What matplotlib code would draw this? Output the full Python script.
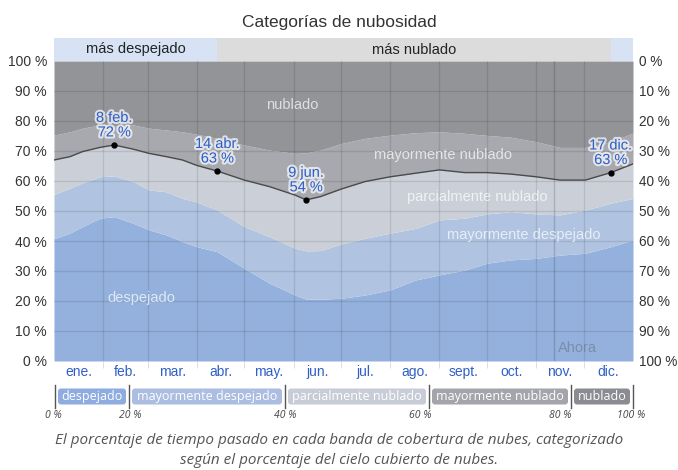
import matplotlib
matplotlib.use('Agg')
import matplotlib.pyplot as plt
import matplotlib.patheffects as pe
from matplotlib.patches import FancyBboxPatch

# Datos (día del año, porcentaje acumulado)
dias = [0, 10, 18, 29, 38, 50, 60, 71, 81, 90, 103, 120, 136, 152, 159, 168,
        181, 196, 212, 228, 243, 259, 273, 288, 304, 319, 335, 351, 365]
# límite superior de "despejado"
despejado = [40.8, 42.6, 44.8, 47.6, 48.1, 45.9, 43.7, 42.0, 39.8, 38.1, 36.4,
             30.9, 25.9, 22.0, 20.6, 20.6, 20.9, 22.0, 23.7, 27.0, 28.7, 30.3,
             32.6, 33.7, 34.2, 35.3, 35.9, 38.1, 40.3]
# + "mayormente despejado"
may_despejado = [55.5, 57.6, 59.4, 61.4, 61.7, 59.8, 57.0, 56.4, 54.2, 53.0, 50.3,
                 44.8, 41.4, 37.6, 36.7, 36.8, 39.0, 40.9, 42.6, 44.2, 47.0, 47.6,
                 49.0, 49.8, 49.0, 48.7, 50.3, 52.6, 54.2]
# + "parcialmente nublado" (línea oscura)
parc_nublado = [67.0, 68.1, 69.8, 71.2, 72.0, 70.6, 69.2, 68.1, 67.0, 65.2, 63.3,
                60.3, 58.1, 55.3, 53.7, 54.8, 57.3, 59.8, 61.4, 62.6, 63.7, 62.8,
                62.8, 62.3, 61.4, 60.3, 60.3, 62.8, 65.7]
# + "mayormente nublado"
may_nublado = [75.3, 76.4, 77.6, 78.7, 78.4, 78.7, 77.6, 77.0, 76.4, 75.6, 74.2,
               72.0, 70.3, 69.2, 69.4, 70.3, 72.5, 74.2, 75.3, 76.1, 76.4, 75.9,
               75.2, 74.6, 73.1, 71.2, 71.2, 73.1, 76.0]

meses = ['ene.', 'feb.', 'mar.', 'abr.', 'may.', 'jun.', 'jul.', 'ago.',
         'sept.', 'oct.', 'nov.', 'dic.']
inicio_mes = [0, 31, 59, 90, 120, 151, 181, 212, 243, 273, 304, 334, 365]

# puntos destacados: (día, valor, fecha)
destacados = [(38, 72.0, '8 feb.'), (103, 63.3, '14 abr.'),
              (159, 53.7, '9 jun.'), (351, 62.8, '17 dic.')]
# estaciones: (inicio, fin, nombre)
temporadas = [(0, 103, 'más despejado'), (103, 351, 'más nublado'), (351, 365, '')]
ahora = 315

categorias = ['despejado', 'mayormente despejado', 'parcialmente nublado',
              'mayormente nublado', 'nublado']
leyenda_pct = ['0 %', '20 %', '40 %', '60 %', '80 %', '100 %']

col_area = ['#93b1dc', '#b0c3e0', '#cbd0d8', '#a7a9ae', '#929498']
col_caja = ['#8eace0', '#abbde0', '#c8ccd6', '#a3a5aa', '#8a8c91']
azul = '#2f5fc8'

W, H = 678, 470
def fx(x):
    return x / W
def fy(y):
    return 1 - y / H

fig = plt.figure(figsize=(6.78, 4.70), dpi=100)
sans = ['Liberation Sans', 'DejaVu Sans']
open_sans = ['Open Sans', 'DejaVu Sans']

# gráfico principal
ax = fig.add_axes([fx(54), fy(361), fx(633) - fx(54), fy(61) - fy(361)])
ax.set_xlim(0, 365)
ax.set_ylim(0, 100)

capas = [[0] * len(dias), despejado, may_despejado, parc_nublado, may_nublado,
         [100] * len(dias)]
for i in range(5):
    ax.fill_between(dias, capas[i], capas[i + 1], color=col_area[i], lw=0, zorder=1)

for v in range(10, 100, 10):
    ax.axhline(v, color='k', alpha=0.1, lw=1, zorder=2)
for d in inicio_mes[1:-1]:
    ax.axvline(d, color='k', alpha=0.1, lw=1, zorder=2)
ax.axvline(ahora, color='k', alpha=0.16, lw=1, zorder=2)
ax.text(ahora + 3, 4.5, 'Ahora', color='#6f7e96', alpha=0.7, fontsize=10.5,
        family=sans, ha='left', va='center', zorder=3)

ax.plot(dias, parc_nublado, color='#4a4a4a', lw=1, zorder=4)

halo = [pe.withStroke(linewidth=3, foreground='white', alpha=0.7)]
for d, v, fecha in destacados:
    ax.plot(d, v, 'o', color='k', ms=3.5, zorder=5)
    ax.annotate(f'{fecha}\n{round(v)} %', (d, v), xytext=(0, 4),
                textcoords='offset points', ha='center', va='bottom',
                color=azul, fontsize=10.5, family=sans, linespacing=1.05,
                path_effects=halo, zorder=6)

etiquetas = [('nublado', 150, 85.3), ('mayormente nublado', 245, 68.7),
             ('parcialmente nublado', 267, 54.7), ('mayormente despejado', 296, 42),
             ('despejado', 55, 21)]
for txt, d, v in etiquetas:
    ax.text(d, v, txt, color='white', alpha=0.7, fontsize=10.5, family=sans,
            ha='center', va='center', zorder=3)

centros = [(inicio_mes[i] + inicio_mes[i + 1]) / 2 for i in range(12)]
ax.set_xticks(centros)
ax.set_xticklabels(meses, color=azul, fontsize=10, family=sans)
ax.set_xticks(inicio_mes[1:-1], minor=True)
ax.tick_params(axis='x', which='major', length=0, pad=3)
ax.tick_params(axis='x', which='minor', length=5, color='#d8d8d8')
ax.set_yticks(range(0, 101, 10))
ax.set_yticklabels([f'{v} %' for v in range(0, 101, 10)], color='#333333',
                   fontsize=10, family=sans)
ax.tick_params(axis='y', length=0, pad=5)
for s in ax.spines.values():
    s.set_visible(False)

ax2 = ax.twinx()
ax2.set_ylim(100, 0)
ax2.set_yticks(range(0, 101, 10))
ax2.set_yticklabels([f'{v} %' for v in range(0, 101, 10)], color='#333333',
                    fontsize=9.8, family=sans)
ax2.tick_params(axis='y', length=0, pad=4)
for s in ax2.spines.values():
    s.set_visible(False)

# banda superior de estaciones
banda = fig.add_axes([fx(54), fy(61), fx(633) - fx(54), fy(38) - fy(61)])
banda.set_xlim(0, 365)
banda.set_ylim(0, 1)
for ini, fin, nombre in temporadas:
    c = '#dcdcdd' if nombre == 'más nublado' else '#d7e3f4'
    banda.axvspan(ini, fin, color=c, lw=0)
    if nombre:
        banda.text((ini + fin) / 2, 0.5, nombre, ha='center', va='center',
                   fontsize=10.5, family=sans, color='#222222')
banda.axis('off')

fig.text(fx(339), fy(22), 'Categorías de nubosidad', ha='center', va='center',
         fontsize=12.5, family=sans, color='#333333')

# leyenda inferior
seps = [55, 129, 285, 429, 571, 633]
ley = fig.add_axes([0, fy(422), 1, fy(380) - fy(422)])
ley.set_xlim(0, W)
ley.set_ylim(422, 380)
ley.axis('off')
for x in seps:
    ley.plot([x, x], [385, 408], color='#555555', lw=1)
for i, nombre in enumerate(categorias):
    x0, x1 = seps[i] + 3, seps[i + 1] - 3
    ley.add_patch(FancyBboxPatch((x0, 388.5), x1 - x0, 16,
                                 boxstyle='round,pad=0,rounding_size=3',
                                 fc=col_caja[i], ec='none'))
    ley.text((x0 + x1) / 2, 396.5, nombre, ha='center', va='center',
             color='white', fontsize=9, family=open_sans)
pos_pct = [53, 130, 285, 420, 560, 631]
for x, t in zip(pos_pct, leyenda_pct):
    ley.text(x, 416, t, ha='center', va='center', fontsize=7.5, style='italic',
             color='#444444', family=open_sans)

fig.text(fx(339), fy(441),
         'El porcentaje de tiempo pasado en cada banda de cobertura de nubes, categorizado',
         ha='center', va='center', fontsize=11, style='italic', color='#555555',
         family=open_sans)
fig.text(fx(339), fy(461), 'según el porcentaje del cielo cubierto de nubes.',
         ha='center', va='center', fontsize=11, style='italic', color='#555555',
         family=open_sans)

fig.savefig('out.png', dpi=100)
